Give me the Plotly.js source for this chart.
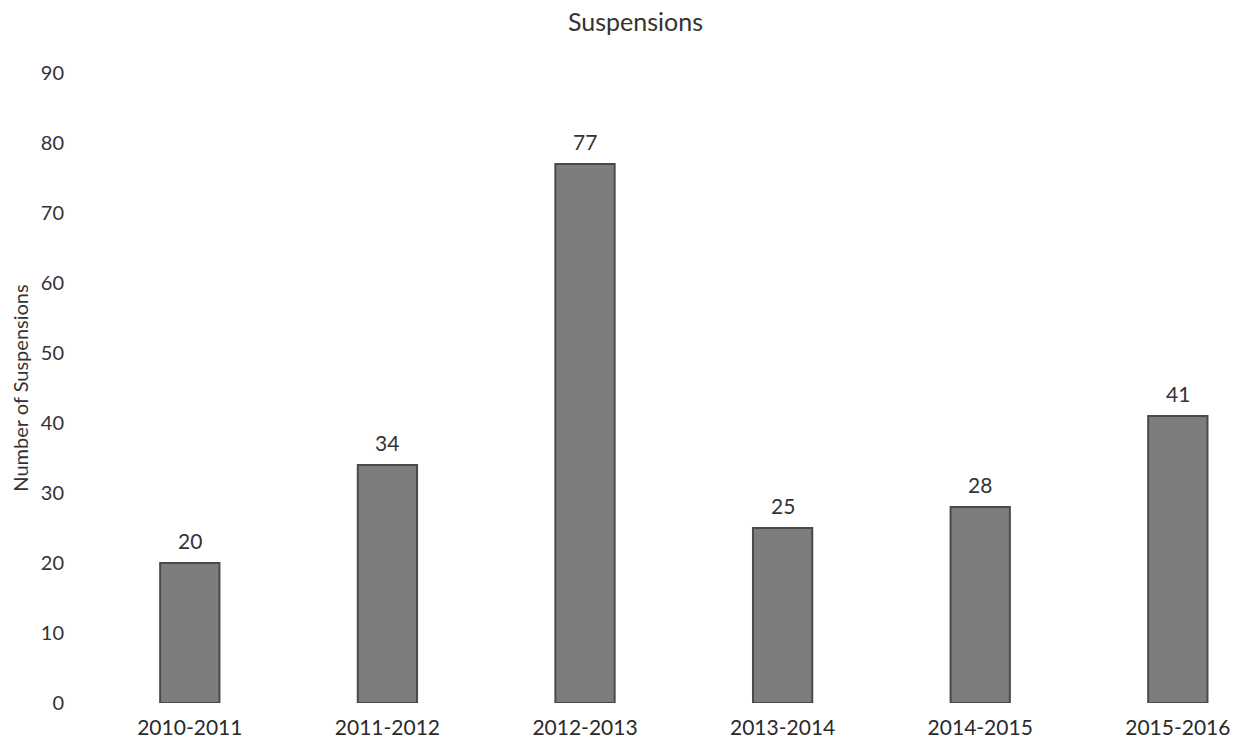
<!DOCTYPE html>
<html><head><meta charset="utf-8">
<script src="https://cdn.plot.ly/plotly-3.0.1.min.js"></script>
<style>html,body{margin:0;padding:0;background:#fff}#c{width:1246px;height:749px}</style>
</head><body><div id="c"></div>
<script>
const categories = ["2010-2011","2011-2012","2012-2013","2013-2014","2014-2015","2015-2016"];
const suspensions = [20, 34, 77, 25, 28, 41];
const yTicks = [0,10,20,30,40,50,60,70,80,90];

const FONT = 'Lato, "Open Sans", sans-serif';

const trace = {
  type: 'bar',
  x: categories,
  y: suspensions,
  width: 0.3,
  marker: {color: '#7d7d7d', line: {color: '#4a4a4a', width: 2}},
  hoverinfo: 'none'
};

const labels = categories.map((c, i) => ({
  x: c, y: suspensions[i], text: String(suspensions[i]),
  xref: 'x', yref: 'y', showarrow: false, yanchor: 'bottom', yshift: 8,
  font: {family: FONT, size: 21, color: '#333'}
}));

const layout = {
  width: 1246, height: 749,
  margin: {l: 91, r: 0, t: 73, b: 46},
  paper_bgcolor: '#fff', plot_bgcolor: '#fff',
  showlegend: false,
  annotations: labels,
  title: {text: 'Suspensions', x: 0.51, xanchor: 'center', y: 0.97, yanchor: 'middle',
          font: {family: FONT, size: 25, color: '#333'}},
  font: {family: FONT, color: '#333'},
  xaxis: {
    type: 'category',
    range: [-0.5, 5.345],
    showgrid: false, zeroline: false, showline: false,
    ticks: '', ticklabelstandoff: 10,
    tickfont: {size: 21, color: '#2a2a2a'}
  },
  yaxis: {
    range: [0, 90],
    tickvals: yTicks,
    showgrid: false, zeroline: false, showline: false,
    ticks: '', ticklabelstandoff: 26,
    tickfont: {size: 20, color: '#333'},
    title: {text: 'Number of Suspensions', standoff: 6, font: {size: 20, color: '#333'}}
  }
};

Plotly.newPlot('c', [trace], layout, {staticPlot: true, displayModeBar: false});
</script></body></html>
